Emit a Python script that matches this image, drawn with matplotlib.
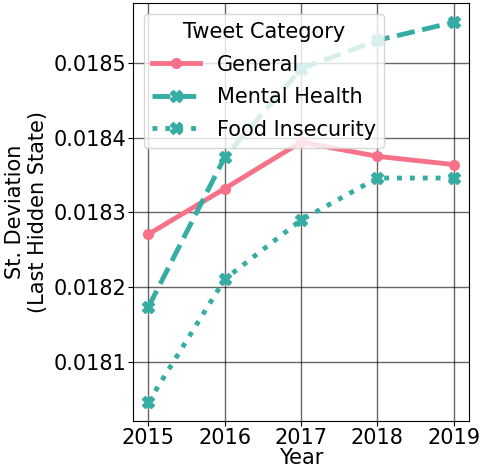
import matplotlib
matplotlib.use("Agg")
import matplotlib.pyplot as plt

years = [2015, 2016, 2017, 2018, 2019]
general = [0.018271, 0.018332, 0.018394, 0.018375, 0.018364]
mental_health = [0.018174, 0.018374, 0.018492, 0.018530, 0.018554]
food_insecurity = [0.018047, 0.018211, 0.018290, 0.018346, 0.018346]

pink = "#f77189"
teal = "#36ada4"

plt.rcParams["font.size"] = 15
fig, ax = plt.subplots(figsize=(4.81, 4.74), dpi=100)

ax.plot(years, general, color=pink, linestyle="-", marker="o", linewidth=3.5,
        markersize=7, label="General")
ax.plot(years, mental_health, color=teal, linestyle=(0, (3.7, 1.6)), marker="X",
        linewidth=3.5, markersize=8, label="Mental Health")
ax.plot(years, food_insecurity, color=teal, linestyle=(0, (1, 1.65)), marker="X",
        linewidth=3.5, markersize=8, label="Food Insecurity")

ax.set_xticks(years)
ax.tick_params(axis="both", pad=1.5)
ax.grid(True, color="black", alpha=0.6, linewidth=1)
ax.set_xlabel("Year", labelpad=0)
ax.set_ylabel("St. Deviation\n(Last Hidden State)")
ax.legend(title="Tweet Category", loc="upper left", framealpha=0.8,
          handlelength=2.3, labelspacing=0.6)

fig.subplots_adjust(left=0.277, right=0.975, top=0.993, bottom=0.112)
fig.savefig("out.png", dpi=100)
